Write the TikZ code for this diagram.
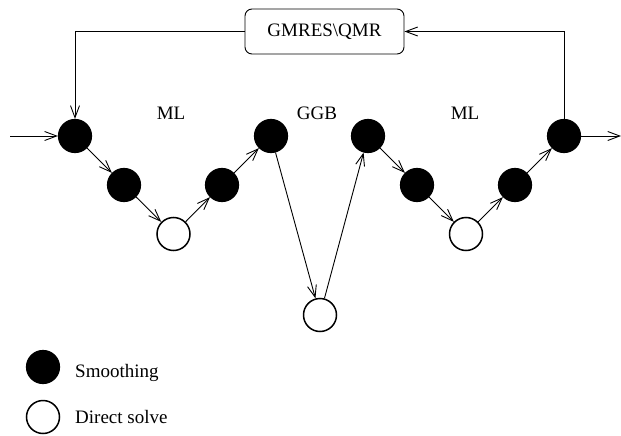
\documentclass[tikz,border=0pt]{standalone}
\usepackage{fontspec}
\setmainfont{Liberation Serif}
\usetikzlibrary{arrows.meta}
\begin{document}
\begin{tikzpicture}[x=1pt,y=-1pt,
  every node/.style={font=\fontsize{19}{23}\selectfont},
  smooth/.style={circle,fill=black,draw=black,line width=1.2pt,minimum size=33pt,inner sep=0pt},
  direct/.style={circle,fill=white,draw=black,line width=1.5pt,minimum size=33pt,inner sep=0pt},
  flow/.style={line width=0.9pt,-{Straight Barb[length=12pt,width=9pt,line width=0.9pt]}},
  lbl/.style={anchor=base,inner sep=0pt}]
\useasboundingbox (0,0) rectangle (621,436);

% V-cycle nodes
\node[smooth] (a1) at (75,136) {};
\node[smooth] (a2) at (124,185) {};
\node[direct] (a3) at (173.5,234) {};
\node[smooth] (a4) at (222,185) {};
\node[smooth] (a5) at (271,136) {};
\node[direct] (g)  at (320,315) {};
\node[smooth] (b1) at (368,136) {};
\node[smooth] (b2) at (417,185) {};
\node[direct] (b3) at (466,234) {};
\node[smooth] (b4) at (515,185) {};
\node[smooth] (b5) at (564,136) {};

% outer solver
\node[draw,line width=0.9pt,rounded corners=7pt,minimum width=159pt,minimum height=45pt,inner sep=0pt] (krylov) at (324.5,31.5) {GMRES\textbackslash QMR};

% level labels
\node[lbl] (ml1) at (171,119) {ML};
\node[lbl] (ggb) at (317,119) {GGB};
\node[lbl] (ml2) at (465,119) {ML};

% entry and exit
\coordinate (in) at (10,136);
\coordinate (out) at (621,136);
\draw[flow] (in) -- (a1);
\draw[flow] (b5) -- (out);

% cycle connectors
\draw[flow] (a1) -- (a2);
\draw[flow] (a2) -- (a3);
\draw[flow] (a3) -- (a4);
\draw[flow] (a4) -- (a5);
\draw[flow] (a5) -- (g);
\draw[flow] (g) -- (b1);
\draw[flow] (b1) -- (b2);
\draw[flow] (b2) -- (b3);
\draw[flow] (b3) -- (b4);
\draw[flow] (b4) -- (b5);

% loop through the outer solver
\draw[flow] (krylov.west) -| (a1.north);
\draw[flow] (b5.north) |- (krylov.east);

% legend
\node[smooth] (ls) at (43,367) {};
\node[direct] (ld) at (43,417) {};
\node[anchor=base west,inner sep=0pt] (lst) at (75,377) {Smoothing};
\node[anchor=base west,inner sep=0pt] (ldt) at (75,423) {Direct solve};
\end{tikzpicture}
\end{document}
